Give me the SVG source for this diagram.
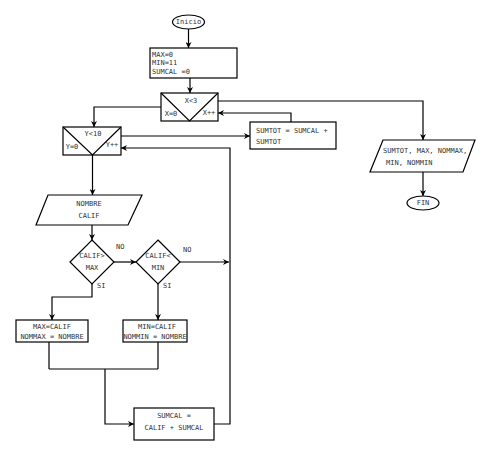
<svg xmlns="http://www.w3.org/2000/svg" width="485" height="459" viewBox="0 0 485 459">
<style>
.s{fill:none;stroke:#000;stroke-width:1.2}
.b{fill:#fff;stroke:#000;stroke-width:1.2}
text{font-family:"DejaVu Sans Mono","Liberation Mono",monospace;font-size:7px;fill:#333;dominant-baseline:central}
.m{text-anchor:middle}
</style>
<defs>
<marker id="a" viewBox="0 0 10 10" refX="10" refY="5" markerWidth="6" markerHeight="6" orient="auto" markerUnits="userSpaceOnUse">
<path d="M0,0 L10,5 L0,10 L3,5 Z" fill="#000"/>
</marker>
</defs>
<g id="connectors" class="s">
<path d="M188.5,29 V48" marker-end="url(#a)"/>
<path d="M190,78 V93" marker-end="url(#a)"/>
<path d="M218,101 H423 V140" marker-end="url(#a)"/>
<path d="M423,172 V196" marker-end="url(#a)"/>
<path d="M161,107 H94 V127" marker-end="url(#a)"/>
<path d="M121,136 H250" marker-end="url(#a)"/>
<path d="M291,122 V113 H218" marker-end="url(#a)"/>
<path d="M92.5,155 V195" marker-end="url(#a)"/>
<path d="M92,225 V240" marker-end="url(#a)"/>
<path d="M114,262 H136" marker-end="url(#a)"/>
<path d="M180,262 H229" marker-end="url(#a)"/>
<path d="M92,284 V297 H52 V320" marker-end="url(#a)"/>
<path d="M158,284 V320" marker-end="url(#a)"/>
<path d="M49,342 V369 M158,342 V369 M49,369 H158"/>
<path d="M105,369 V424 H134" marker-end="url(#a)"/>
<path d="M214,424 H230 V148 H121" marker-end="url(#a)"/>
</g>
<g id="inicio">
<ellipse class="b" cx="188.5" cy="22" rx="16" ry="7"/>
<text class="m" x="188.5" y="22">Inicio</text>
</g>
<g id="init">
<rect class="b" x="150" y="48" width="87" height="30"/>
<text x="152" y="55">MAX=0</text>
<text x="152" y="63">MIN=11</text>
<text x="152" y="71.5">SUMCAL =0</text>
</g>
<g id="loopX">
<rect class="b" x="161" y="93" width="57" height="28"/>
<path class="s" d="M161,93 L189.5,121 L218,93"/>
<text class="m" x="191" y="101">X&lt;3</text>
<text class="m" x="171" y="114">X=0</text>
<text class="m" x="209" y="113">X++</text>
</g>
<g id="loopY">
<rect class="b" x="63" y="127" width="58" height="28"/>
<path class="s" d="M63,127 L92.5,155 L121,127"/>
<text class="m" x="93" y="134">Y&lt;10</text>
<text class="m" x="72" y="147">Y=0</text>
<text class="m" x="112" y="145">Y++</text>
</g>
<g id="sumtot">
<rect class="b" x="250" y="122" width="86" height="27"/>
<text x="256" y="131">SUMTOT = SUMCAL +</text>
<text x="256" y="142">SUMTOT</text>
</g>
<g id="output">
<path class="b" d="M383,140 H475 L463,172 H370 Z"/>
<text x="383" y="151">SUMTOT, MAX, NOMMAX,</text>
<text x="386" y="163">MIN, NOMMIN</text>
</g>
<g id="fin">
<ellipse class="b" cx="423" cy="203" rx="16" ry="7"/>
<text class="m" x="423" y="203">FIN</text>
</g>
<g id="input">
<path class="b" d="M48,195 H142 L128,225 H36 Z"/>
<text class="m" x="89" y="204">NOMBRE</text>
<text class="m" x="89" y="216">CALIF</text>
</g>
<g id="ifmax">
<path class="b" d="M92,240 L114,262 L92,284 L70,262 Z"/>
<text class="m" x="92" y="256">CALIF&gt;</text>
<text class="m" x="92" y="268">MAX</text>
<text x="116" y="247">NO</text>
<text x="97" y="286">SI</text>
</g>
<g id="ifmin">
<path class="b" d="M158,240 L180,262 L158,284 L136,262 Z"/>
<text class="m" x="158" y="256">CALIF&lt;</text>
<text class="m" x="158" y="268">MIN</text>
<text x="183" y="250">NO</text>
<text x="163" y="286">SI</text>
</g>
<g id="setmax">
<rect class="b" x="16" y="320" width="72" height="22"/>
<text class="m" x="52" y="327">MAX=CALIF</text>
<text class="m" x="52" y="337">NOMMAX = NOMBRE</text>
</g>
<g id="setmin">
<rect class="b" x="123" y="320" width="64" height="22"/>
<text class="m" x="157" y="327">MIN=CALIF</text>
<text class="m" x="155" y="337">NOMMIN = NOMBRE</text>
</g>
<g id="sumcal">
<rect class="b" x="134" y="408" width="80" height="32"/>
<text class="m" x="174" y="416">SUMCAL =</text>
<text class="m" x="174" y="428">CALIF + SUMCAL</text>
</g>
</svg>
